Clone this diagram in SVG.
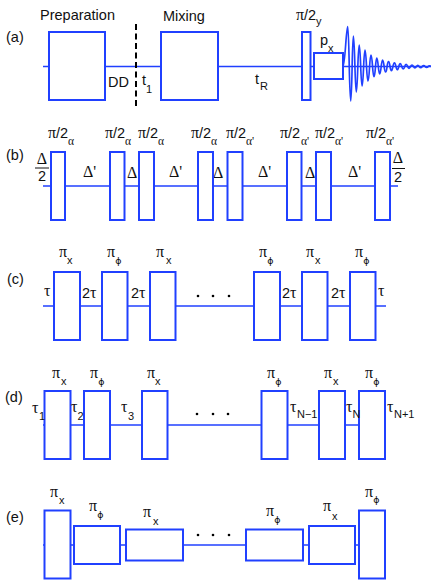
<svg xmlns="http://www.w3.org/2000/svg" width="436" height="582" viewBox="0 0 436 582">
<style>
.b{fill:#fff;stroke:#2040ff;stroke-width:2}
.c{fill:none;stroke:#2040ff;stroke-width:1.5}
.t{font-family:"Liberation Sans",Arial,sans-serif;font-size:14.5px;fill:#111}
.g{font-family:"Liberation Serif","DejaVu Serif",serif;font-size:16px;fill:#111}
.s{font-family:"Liberation Sans",Arial,sans-serif;font-size:11px;fill:#111}
.q{font-family:"Liberation Serif","DejaVu Serif",serif;font-size:11.5px;fill:#111}
.f{font-family:"DejaVu Sans",sans-serif;font-size:9.5px;fill:#111}
.d{fill:#000}
</style>
<rect width="436" height="582" fill="#fff"/>
<g id="connectors">
<path class="c" d="M43 66.5H431"/>
<path class="c" d="M43 186H398"/>
<path class="c" d="M43 306H386"/>
<path class="c" d="M43 425H386"/>
<path class="c" d="M43 545H386"/>
<path d="M136 24V107" fill="none" stroke="#000" stroke-width="2" stroke-dasharray="6 3.5"/>
</g>
<g id="fid"><path fill="none" stroke="#2040ff" stroke-width="1.7" d="M343 66.5C345 66.5 346.2 26.7 347.7 26.7S349.2 101 350.7 101S352 36 353.4 36S354.9 92 356.3 92S357.8 45 359.2 45S360.7 86 362.1 86S363.6 50 365 50S366.5 81 368 81S369.5 55 371 55S372.5 76.7 374 76.7S375.4 58 376.8 58S378.3 74 379.7 74S381.2 60 382.6 60S384.1 72 385.6 72S387 61.6 388.5 61.6S390 70.7 391.4 70.7S392.9 62.8 394.4 62.8S395.9 69.7 397.3 69.7S398.8 63.7 400.2 63.7S401.7 68.9 403.2 68.9S404.6 64.4 406.1 64.4S407.6 68.3 409 68.3S410.5 65 412 65S413.4 67.9 414.9 67.9S416.4 65.3 417.8 65.3S419.3 67.6 420.7 67.6S422.2 65.6 423.7 65.6S425.1 67.4 426.6 67.4S428 65.8 429.5 65.8S430.3 66.5 431 66.5"/></g>

<g id="a-labels">
<text class="t" x="6" y="42">(a)</text>
<text class="t" x="108" y="87">DD</text>
<text class="t" x="142" y="85">t</text><text class="s" x="146" y="93">1</text>
<text class="t" x="255" y="84">t</text><text class="s" x="260" y="90">R</text>
</g>
<g id="a-prep"><rect class="b" x="49" y="32" width="56" height="68"/><text class="t" x="40" y="20">Preparation</text></g>
<g id="a-mix"><rect class="b" x="161" y="32" width="57" height="68"/><text class="t" x="163" y="21">Mixing</text></g>
<g id="a-pulse"><rect class="b" x="302" y="32" width="8.5" height="68"/><text class="g" x="296" y="20">π<tspan class="t">/2</tspan></text><text class="s" x="316" y="25">y</text></g>
<g id="a-px"><rect class="b" x="314" y="53" width="29" height="26"/><text class="t" x="320" y="45">p</text><text class="s" x="328" y="52">x</text></g>

<g id="b-labels">
<text class="t" x="6" y="160">(b)</text>
<text class="g" x="42" y="164" text-anchor="middle">Δ</text><path d="M35 168H49" stroke="#111" stroke-width="1"/><text class="t" x="42" y="181" text-anchor="middle">2</text>
<text class="g" x="398" y="163" text-anchor="middle">Δ</text><path d="M392 168.5H405" stroke="#111" stroke-width="1"/><text class="t" x="398" y="182" text-anchor="middle">2</text>
<text class="g" x="83" y="177">Δ'</text><text class="g" x="127" y="178">Δ</text><text class="g" x="169" y="177">Δ'</text><text class="g" x="213" y="178">Δ</text>
<text class="g" x="258" y="177">Δ'</text><text class="g" x="305" y="178">Δ</text><text class="g" x="348" y="177">Δ'</text>
</g>
<g id="b1"><rect class="b" x="51" y="152" width="14" height="68"/><text class="g" x="48" y="138">π<tspan class="t">/2</tspan></text><text class="q" x="68" y="145">α</text></g>
<g id="b2"><rect class="b" x="110" y="152" width="14.5" height="68"/><text class="g" x="105" y="138">π<tspan class="t">/2</tspan></text><text class="q" x="125" y="145">α</text></g>
<g id="b3"><rect class="b" x="139" y="152" width="15" height="68"/><text class="g" x="138" y="138">π<tspan class="t">/2</tspan></text><text class="q" x="158" y="145">α</text></g>
<g id="b4"><rect class="b" x="198" y="152" width="15" height="68"/><text class="g" x="191" y="138">π<tspan class="t">/2</tspan></text><text class="q" x="211" y="145">α</text></g>
<g id="b5"><rect class="b" x="227.5" y="152" width="15" height="68"/><text class="g" x="226" y="138">π<tspan class="t">/2</tspan></text><text class="q" x="246" y="145">α'</text></g>
<g id="b6"><rect class="b" x="287" y="152" width="14.5" height="68"/><text class="g" x="280" y="138">π<tspan class="t">/2</tspan></text><text class="q" x="301" y="145">α'</text></g>
<g id="b7"><rect class="b" x="316" y="152" width="15" height="68"/><text class="g" x="315" y="138">π<tspan class="t">/2</tspan></text><text class="q" x="335" y="145">α'</text></g>
<g id="b8"><rect class="b" x="375" y="152" width="15" height="68"/><text class="g" x="366" y="138">π<tspan class="t">/2</tspan></text><text class="q" x="386" y="145">α'</text></g>

<g id="c-labels">
<text class="t" x="7" y="284">(c)</text>
<text class="g" x="44" y="296">τ</text>
<text class="t" x="82" y="298">2<tspan class="g">τ</tspan></text><text class="t" x="131" y="298">2<tspan class="g">τ</tspan></text>
<text class="t" x="282" y="298">2<tspan class="g">τ</tspan></text><text class="t" x="331" y="298">2<tspan class="g">τ</tspan></text>
<text class="g" x="378" y="296">τ</text>
<circle class="d" cx="198" cy="296" r="1.3"/><circle class="d" cx="213" cy="296" r="1.3"/><circle class="d" cx="229" cy="296" r="1.3"/>
</g>
<g id="c1"><rect class="b" x="54" y="272" width="26" height="68"/><text class="g" x="59" y="257">π</text><text class="s" x="67" y="264">x</text></g>
<g id="c2"><rect class="b" x="102" y="272" width="25.5" height="68"/><text class="g" x="107" y="257">π</text><text class="f" x="115.2" y="264">ϕ</text></g>
<g id="c3"><rect class="b" x="150" y="272" width="25.5" height="68"/><text class="g" x="156" y="257">π</text><text class="s" x="166" y="264">x</text></g>
<g id="c4"><rect class="b" x="254" y="272" width="26" height="68"/><text class="g" x="259" y="257">π</text><text class="f" x="267.2" y="264">ϕ</text></g>
<g id="c5"><rect class="b" x="302" y="272" width="25.5" height="68"/><text class="g" x="306" y="257">π</text><text class="s" x="315" y="264">x</text></g>
<g id="c6"><rect class="b" x="350" y="272" width="25.5" height="68"/><text class="g" x="355" y="257">π</text><text class="f" x="363.2" y="264">ϕ</text></g>

<g id="d-labels">
<text class="t" x="5" y="402">(d)</text>
<circle class="d" cx="197" cy="414" r="1.3"/><circle class="d" cx="213" cy="414" r="1.3"/><circle class="d" cx="228" cy="414" r="1.3"/>
</g>
<g id="d1"><rect class="b" x="44.5" y="391" width="26" height="68"/><text class="g" x="52" y="378">π</text><text class="s" x="61" y="385">x</text></g>
<g id="d2"><rect class="b" x="84" y="391" width="26" height="68"/><text class="g" x="90" y="378">π</text><text class="f" x="98.2" y="385">ϕ</text></g>
<g id="d3"><rect class="b" x="142" y="391" width="25.5" height="68"/><text class="g" x="147" y="378">π</text><text class="s" x="155" y="385">x</text></g>
<g id="d4"><rect class="b" x="261.5" y="391" width="26" height="68"/><text class="g" x="267" y="378">π</text><text class="f" x="275.2" y="385">ϕ</text></g>
<g id="d5"><rect class="b" x="319" y="391" width="26" height="68"/><text class="g" x="324" y="378">π</text><text class="s" x="333" y="385">x</text></g>
<g id="d6"><rect class="b" x="359" y="391" width="26" height="68"/><text class="g" x="365" y="378">π</text><text class="f" x="373.2" y="385">ϕ</text></g>
<g id="d-delays">
<text class="g" x="32" y="413">τ</text><text class="s" x="39" y="420">1</text>
<text class="g" x="71" y="412">τ</text><text class="s" x="77.5" y="420">2</text>
<text class="g" x="121" y="412">τ</text><text class="s" x="128" y="420">3</text>
<text class="g" x="290" y="412">τ</text><text class="s" x="297" y="418">N−1</text>
<text class="g" x="346" y="412">τ</text><text class="s" x="352.5" y="418">N</text>
<text class="g" x="387" y="412">τ</text><text class="s" x="394" y="418">N+1</text>
</g>

<g id="e-labels">
<text class="t" x="6" y="522">(e)</text>
<circle class="d" cx="198" cy="535" r="1.3"/><circle class="d" cx="213" cy="535" r="1.3"/><circle class="d" cx="229" cy="535" r="1.3"/>
</g>
<g id="e1"><rect class="b" x="44.5" y="510.5" width="26" height="68"/><text class="g" x="50" y="497">π</text><text class="s" x="59" y="504">x</text></g>
<g id="e2"><rect class="b" x="74" y="526" width="46" height="38"/><text class="g" x="89" y="511">π</text><text class="f" x="97.2" y="518">ϕ</text></g>
<g id="e3"><rect class="b" x="126" y="529.5" width="57" height="31"/><text class="g" x="143" y="517">π</text><text class="s" x="153" y="525">x</text></g>
<g id="e4"><rect class="b" x="246" y="529.5" width="57" height="31"/><text class="g" x="266" y="516">π</text><text class="f" x="274.2" y="523">ϕ</text></g>
<g id="e5"><rect class="b" x="309" y="526" width="46" height="38"/><text class="g" x="323" y="511">π</text><text class="s" x="332" y="520">x</text></g>
<g id="e6"><rect class="b" x="359" y="510.5" width="26" height="68"/><text class="g" x="365" y="497">π</text><text class="f" x="373.2" y="503">ϕ</text></g>
</svg>
